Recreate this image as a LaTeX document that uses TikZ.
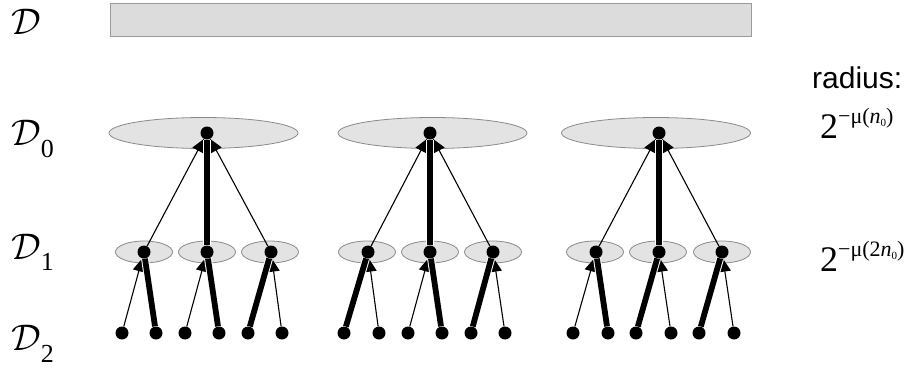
\documentclass[tikz,border=0pt]{standalone}
\usepackage{graphicx}
\usepackage{fontspec}
\setmainfont{Liberation Serif}
\newfontfamily\arialf{Liberation Sans}
\usetikzlibrary{arrows.meta,shapes.geometric}
\definecolor{ellfill}{HTML}{E3E3E3}
\definecolor{ellline}{HTML}{8A8A8A}
\definecolor{rectfill}{HTML}{DCDCDC}
\definecolor{rectline}{HTML}{9A9A9A}
\newcommand{\bigD}{\scalebox{3.7}{$\mathcal{D}$}}
\begin{document}
\begin{tikzpicture}[x=1pt,y=-1pt,
  dot/.style={circle,fill=black,inner sep=0pt,minimum size=13pt},
  bigell/.style={ellipse,draw=ellline,fill=ellfill,line width=0.8pt,inner sep=0pt,minimum width=189pt,minimum height=31pt},
  smallell/.style={ellipse,draw=ellline,fill=ellfill,line width=0.8pt,inner sep=0pt,minimum width=57pt,minimum height=22pt},
  thinarr/.style={line width=1.1pt,-{Triangle[length=13pt,width=12pt]}},
  thickln/.style={line width=5.8pt,preaction={draw=white,line width=7.8pt}},
  lbl/.style={anchor=base west,inner sep=0pt}]
\useasboundingbox (0,0) rectangle (922,367);
\node[draw=rectline,fill=rectfill,line width=0.9pt,inner sep=0pt,minimum width=641pt,minimum height=33pt] (top) at (430.5,19.5) {};
% ellipses
\foreach \n/\x in {E1/203.5,E2/432.5,E3/656} \node[bigell] (\n) at (\x,133) {};
\foreach \n/\x in {F1/144,F2/207,F3/270,F4/367,F5/430,F6/493,F7/595,F8/658,F9/722} \node[smallell] (\n) at (\x,252) {};
% dots
\foreach \n/\x in {a1/207,a2/430,a3/659} \node[dot] (\n) at (\x,133) {};
\foreach \n/\x in {b1/144,b2/207,b3/271,b4/368,b5/430,b6/493,b7/596,b8/659,b9/722} \node[dot] (\n) at (\x,252) {};
\foreach \n/\x in {c1/122,c2/156,c3/185,c4/219,c5/248,c6/282,c7/344,c8/379,c9/408,c10/442,c11/471,c12/505,c13/573,c14/608,c15/636,c16/671,c17/699,c18/734} \node[dot] (\n) at (\x,333) {};
% thin arrows
\foreach \s/\t in {b1/a1,b3/a1,b4/a2,b6/a2,b7/a3,b9/a3,c1/b1,c3/b2,c6/b3,c8/b4,c9/b5,c12/b6,c13/b7,c16/b8,c18/b9}
  \draw[thinarr] (\s) -- (\t);
% thick lines
\foreach \s/\t in {b2/a1,b5/a2,b8/a3,c2/b1,c4/b2,c5/b3,c7/b4,c10/b5,c11/b6,c14/b7,c15/b8,c17/b9}
  \draw[thickln] (\s) -- (\t);
% left labels
\node[lbl] (L) at (11,34) {\bigD};
\node[lbl] (L0) at (11,145) {\bigD\raisebox{-12pt}{\fontsize{26}{26}\selectfont 0}};
\node[lbl] (L1) at (11,259) {\bigD\raisebox{-11pt}{\fontsize{26}{26}\selectfont 1}};
\node[lbl] (L2) at (11,350) {\bigD\raisebox{-12pt}{\fontsize{26}{26}\selectfont 2}};
% right labels
\node[lbl] (rad) at (812,88) {\arialf\fontsize{30}{30}\selectfont radius:};
\node[lbl] (r0) at (820,138) {\fontsize{36}{36}\selectfont 2\raisebox{15pt}{\fontsize{22}{22}\selectfont −μ(\textit{n}\raisebox{-3pt}{\fontsize{11}{11}\selectfont 0})}};
\node[lbl] (r1) at (820,271) {\fontsize{36}{36}\selectfont 2\raisebox{15pt}{\fontsize{22}{22}\selectfont −μ(2\textit{n}\raisebox{-3pt}{\fontsize{11}{11}\selectfont 0})}};
\end{tikzpicture}
\end{document}
